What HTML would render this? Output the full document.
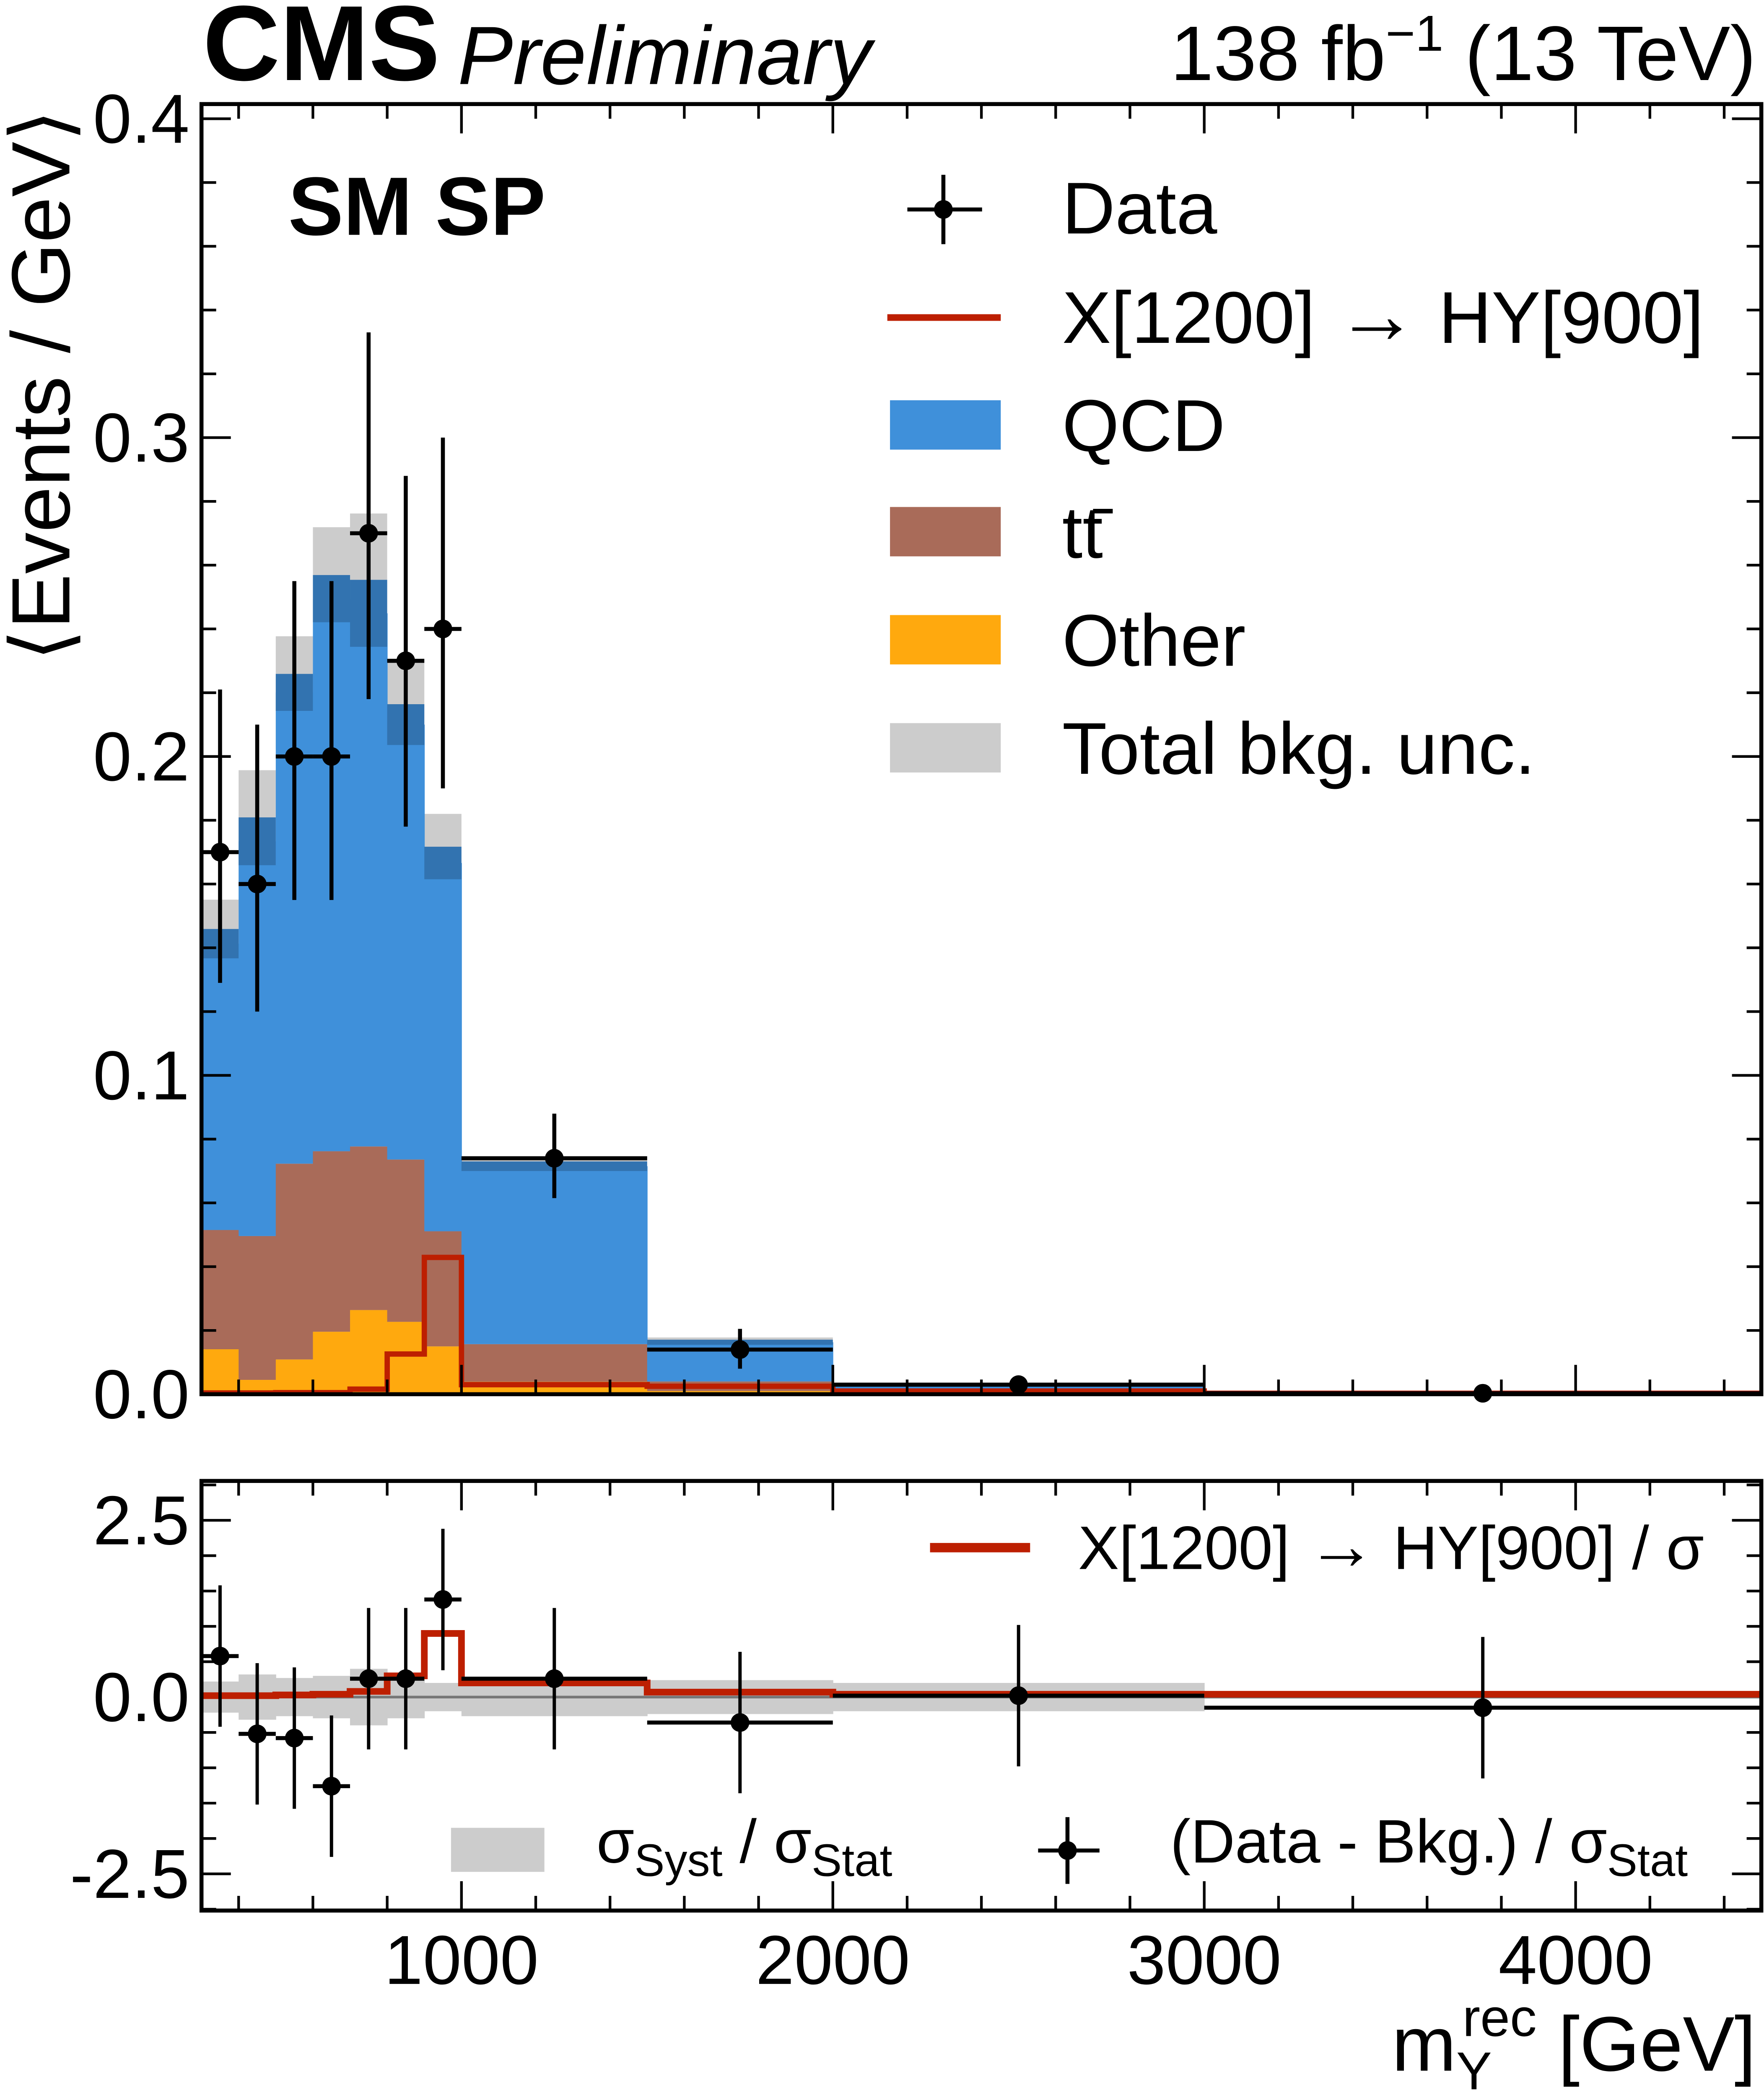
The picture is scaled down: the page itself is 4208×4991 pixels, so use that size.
<!DOCTYPE html>
<html><head><meta charset="utf-8"><style>
html,body{margin:0;padding:0;background:#fff;}
svg{display:block;font-family:"Liberation Sans",Arial,sans-serif;}
</style></head><body>
<svg id="chart" xmlns="http://www.w3.org/2000/svg" width="4208" height="4991" viewBox="0 0 1322 1568">
<g id="main"></g>
<g id="ratio"></g>
<g id="labels">
<text x="152" y="60" font-size="80" font-weight="bold">CMS</text>
<text x="343" y="63" font-size="62" font-style="italic">Preliminary</text>
<text x="1316" y="60" font-size="58" text-anchor="end">138 fb<tspan dy="-22" font-size="38">−1</tspan><tspan dy="22"> (13 TeV)</tspan></text>
<text x="216" y="176" font-size="62" font-weight="bold">SM SP</text>
<text transform="translate(52,82) rotate(-90)" font-size="62" text-anchor="end">⟨Events / GeV⟩</text>
<text x="1316" y="1552" font-size="58" text-anchor="end">m<tspan dy="14" font-size="40">Y</tspan><tspan dx="-22" dy="-40" font-size="40">rec</tspan><tspan dy="26"> [GeV]</tspan></text>
</g>
<g id="legend">
<g><line x1="680" y1="157" x2="736" y2="157" stroke="#000" stroke-width="3"/><line x1="707" y1="131" x2="707" y2="183" stroke="#000" stroke-width="3"/><circle cx="707" cy="157" r="7"/><text x="796" y="175" font-size="55">Data</text></g>
<g><line x1="665" y1="238" x2="750" y2="238" stroke="#bd1f01" stroke-width="5"/><text x="796" y="257" font-size="55">X[1200] <tspan font-size="62">→</tspan> HY[900]</text></g>
<g><rect x="667" y="300" width="83" height="37" fill="#3f90da"/><text x="796" y="338" font-size="55">QCD</text></g>
<g><rect x="667" y="380" width="83" height="37" fill="#a96b59"/><text x="796" y="418" font-size="55">tt<tspan>̄</tspan></text></g>
<g><rect x="667" y="461" width="83" height="37" fill="#ffa90e"/><text x="796" y="499" font-size="55">Other</text></g>
<g><rect x="667" y="542" width="83" height="37" fill="#cccccc"/><text x="796" y="580" font-size="55">Total bkg. unc.</text></g>
<g><line x1="697" y1="1160" x2="772" y2="1160" stroke="#bd1f01" stroke-width="7"/><text x="808" y="1176" font-size="46">X[1200] <tspan font-size="52">→</tspan> HY[900] / σ</text></g>
<g><rect x="338" y="1370" width="70" height="33" fill="#cccccc"/><text x="447" y="1396" font-size="46">σ<tspan dy="10" font-size="34">Syst</tspan><tspan dy="-10"> / σ</tspan><tspan dy="10" font-size="34">Stat</tspan></text></g>
<g><line x1="778" y1="1387" x2="824" y2="1387" stroke="#000" stroke-width="3"/><line x1="800" y1="1362" x2="800" y2="1412" stroke="#000" stroke-width="3"/><circle cx="800" cy="1387" r="7"/><text x="877" y="1396" font-size="46">(Data - Bkg.) / σ<tspan dy="10" font-size="34">Stat</tspan></text></g>
</g>
</svg>
<script>
const edges=[300,400,500,600,700,800,900,1000,1500,2000,3000,4500];
const qcd=[0.0898,0.1238,0.1478,0.1733,0.1672,0.1364,0.1155,0.0558,0.0123,0.0017,0.0002];
const ttbar=[0.0374,0.0451,0.0614,0.0566,0.0513,0.0509,0.0361,0.0118,0.003,0.0006,0.0001];
const other=[0.0141,0.0045,0.0109,0.0196,0.0264,0.0227,0.0150,0.0039,0.001,0.0002,0];
const uncQcd=[0.0046,0.0075,0.0058,0.0074,0.0105,0.0064,0.0051,0.0015,0.0008,0.0002,0.0001];
const uncTot=[0.0138,0.0223,0.0176,0.0224,0.0313,0.0195,0.0154,0.003,0.0015,0.0005,0.0002];
const signal=[0.0004,0.0004,0.0005,0.0005,0.0016,0.0126,0.0429,0.003,0.0025,0.001,0.0003];
const dataVal=[0.17,0.16,0.20,0.20,0.27,0.23,0.24,0.074,0.014,0.003,0.0003];
const dataLo=[0.129,0.12,0.155,0.155,0.218,0.178,0.19,0.0615,0.008,0.0017,0.0];
const dataHi=[0.221,0.21,0.255,0.255,0.333,0.288,0.30,0.088,0.0205,0.0045,0.0008];
const pull=[0.58,-0.52,-0.58,-1.26,0.26,0.26,1.38,0.26,-0.36,0.02,-0.15];
const pullErr=[1,1,1,1,1,1,1,1,1,1,1];
const sigOverSigma=[0.02,0.02,0.03,0.04,0.08,0.3,0.9,0.2,0.07,0.04,0.04];
const syst=[0.22,0.32,0.27,0.3,0.4,0.3,0.2,0.27,0.24,0.2,0.02];
const xTicks=[1000,2000,3000,4000];
const yTicks=[0.0,0.1,0.2,0.3,0.4];
const rTicks=[-2.5,0.0,2.5];

const NS="http://www.w3.org/2000/svg";
const X0=151,X1=1320,MT=78,MB=1045,RT=1110,RB=1432;
function xs(v){return X0+(v-300)*(X1-X0)/4200;}
function ym(v){return MB-v*2390;}
function yr(v){return 1272-v*53;}
function mk(tag,attrs,parent){const e=document.createElementNS(NS,tag);for(const k in attrs)e.setAttribute(k,attrs[k]);parent.appendChild(e);return e;}
const main=document.getElementById('main'),ratio=document.getElementById('ratio');
const n=qcd.length;
for(let i=0;i<n;i++){const tot=qcd[i]+ttbar[i]+other[i];
 const r=mk('rect',{x:xs(edges[i]),width:xs(edges[i+1])-xs(edges[i]),y:ym(tot+uncTot[i]),height:ym(tot-uncTot[i])-ym(tot+uncTot[i]),fill:'#cccccc'},main);
 
 }
const comps=[[other,'#ffa90e','other'],[ttbar,'#a96b59','ttbar'],[qcd,'#3f90da','qcd']];
for(let i=0;i<n;i++){let base=0;
 for(const [arr,col,nm] of comps){const top=base+arr[i];
  const r=mk('rect',{x:xs(edges[i]),width:xs(edges[i+1])-xs(edges[i])+0.3,y:ym(top),height:Math.max(0,ym(base)-ym(top)),fill:col},main);
  
  
  base=top;}
 const r=mk('rect',{x:xs(edges[i]),width:xs(edges[i+1])-xs(edges[i]),y:ym(base+uncQcd[i]),height:ym(base-uncQcd[i])-ym(base+uncQcd[i]),fill:'#3273b0'},main);
 
 }
function stepPath(vals,f){let d='M'+xs(edges[0])+','+f(vals[0]);for(let i=0;i<vals.length;i++){d+=' L'+xs(edges[i])+','+f(vals[i])+' L'+xs(edges[i+1])+','+f(vals[i]);}return d;}
const sp=mk('path',{d:stepPath(signal,ym),fill:'none',stroke:'#bd1f01','stroke-width':4},main);


for(let i=0;i<n;i++){const cx=(xs(edges[i])+xs(edges[i+1]))/2;
 const g=mk('g',{},main);
 
 
 mk('line',{x1:xs(edges[i]),x2:xs(edges[i+1]),y1:ym(dataVal[i]),y2:ym(dataVal[i]),stroke:'#000','stroke-width':3},g);
 mk('line',{x1:cx,x2:cx,y1:ym(dataHi[i]),y2:ym(dataLo[i]),stroke:'#000','stroke-width':3},g);
 mk('circle',{cx:cx,cy:ym(dataVal[i]),r:7},g);}
for(let i=0;i<n;i++){const r=mk('rect',{x:xs(edges[i]),width:xs(edges[i+1])-xs(edges[i])+0.3,y:yr(syst[i]),height:yr(-syst[i])-yr(syst[i]),fill:'#cccccc'},ratio);
 
 }
const zl=mk('line',{x1:X0,x2:X1,y1:yr(0),y2:yr(0),stroke:'#777','stroke-width':2},ratio);


const rsp=mk('path',{d:stepPath(sigOverSigma,yr),fill:'none',stroke:'#bd1f01','stroke-width':5},ratio);


for(let i=0;i<n;i++){const cx=(xs(edges[i])+xs(edges[i+1]))/2;
 const g=mk('g',{},ratio);
 
 
 mk('line',{x1:xs(edges[i]),x2:xs(edges[i+1]),y1:yr(pull[i]),y2:yr(pull[i]),stroke:'#000','stroke-width':3},g);
 mk('line',{x1:cx,x2:cx,y1:yr(pull[i]+pullErr[i]),y2:yr(pull[i]-pullErr[i]),stroke:'#000','stroke-width':2.5},g);
 mk('circle',{cx:cx,cy:yr(pull[i]),r:7},g);}
function frame(p,t,b,nm){const r=mk('rect',{x:X0,y:t,width:X1-X0,height:b-t,fill:'none',stroke:'#000','stroke-width':3},p);
 
 }
frame(main,MT,MB,'main-frame');frame(ratio,RT,RB,'ratio-frame');
const tk=mk('g',{stroke:'#000','stroke-width':2},main);


for(let v=400;v<=4500;v+=200){const x=xs(v);const L=(v%1000===0)?22:11;
 for(const [t,b] of [[MT,MB],[RT,RB]]){mk('line',{x1:x,x2:x,y1:b,y2:b-L},tk);mk('line',{x1:x,x2:x,y1:t,y2:t+L},tk);}}
for(let k=0;k<=20;k++){const v=k*0.02,y=ym(v);if(y<MT)break;const L=(k%5===0)?22:11;
 mk('line',{x1:X0,x2:X0+L,y1:y,y2:y},tk);mk('line',{x1:X1,x2:X1-L,y1:y,y2:y},tk);}
for(let k=-6;k<=6;k++){const v=k*0.5,y=yr(v);if(y<RT||y>RB)continue;const L=(k%5===0)?22:11;
 mk('line',{x1:X0,x2:X0+L,y1:y,y2:y},tk);mk('line',{x1:X1,x2:X1-L,y1:y,y2:y},tk);}
const lab=document.getElementById('labels');
for(const v of xTicks){const t=mk('text',{x:xs(v),y:1487,'font-size':52,'text-anchor':'middle'},lab);t.textContent=v;
 
 }
for(const v of yTicks){const t=mk('text',{x:142,y:ym(v)+18,'font-size':52,'text-anchor':'end'},lab);t.textContent=v.toFixed(1);
 
 }
for(const v of rTicks){const t=mk('text',{x:142,y:yr(v)+18,'font-size':52,'text-anchor':'end'},lab);t.textContent=v.toFixed(1);
 
 }
</script>
</body></html>
